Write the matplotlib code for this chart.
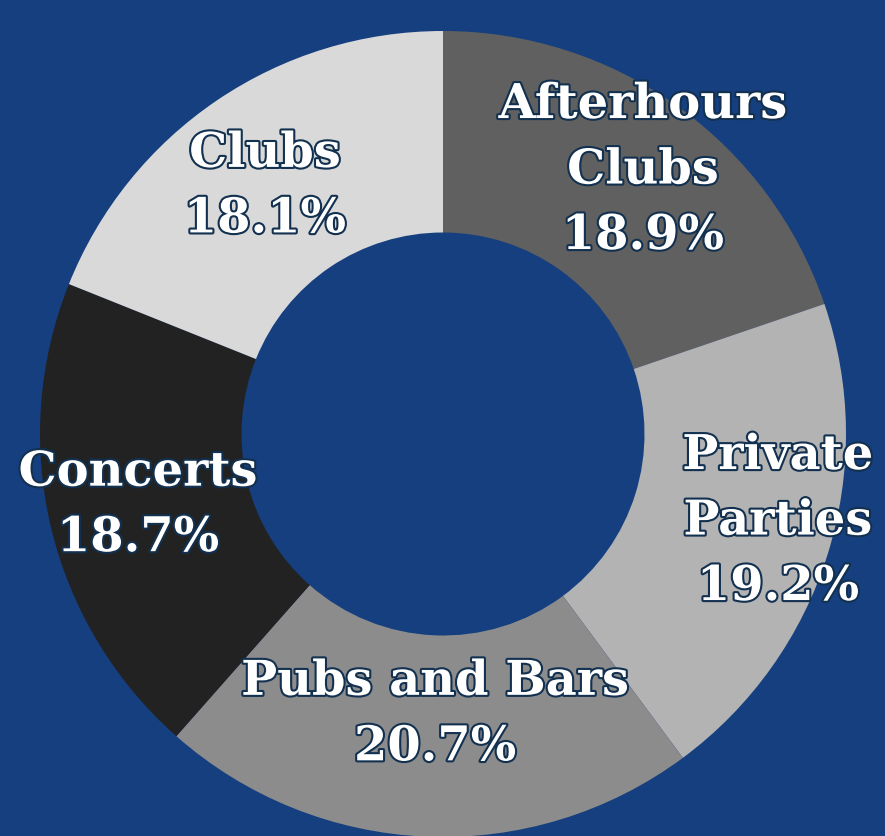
import matplotlib
matplotlib.use("Agg")
import matplotlib.pyplot as plt
import matplotlib.patheffects as pe

# categorias e valores (em %)
categorias = ["Afterhours\nClubs", "Private\nParties", "Pubs and Bars", "Concerts", "Clubs"]
valores = [18.9, 19.2, 20.7, 18.7, 18.1]
cores = ["#606060", "#b3b3b3", "#8c8c8c", "#222222", "#d9d9d9"]
# posicao dos rotulos (unidades do raio)
pos_rotulos = [(0.496, 0.655), (0.831, -0.216), (-0.020, -0.695), (-0.757, -0.176), (-0.442, 0.615)]

fundo = "#163f7f"
fig = plt.figure(figsize=(8.85, 8.37), dpi=100)
fig.patch.set_facecolor(fundo)
ax = fig.add_axes([40 / 885, -1 / 837, 806 / 885, 806 / 837])
ax.set_facecolor(fundo)

ax.pie(valores, colors=cores, startangle=90, counterclock=False, radius=1,
       wedgeprops=dict(width=0.5, linewidth=0))

for (x, y), cat, v in zip(pos_rotulos, categorias, valores):
    t = ax.text(x, y, cat + "\n" + f"{v:.1f}%", ha="center", va="center",
                fontsize=34.5, fontweight="bold", family="DejaVu Serif",
                color="white", linespacing=1.5)
    t.set_path_effects([pe.withStroke(linewidth=3, foreground="#12304f")])

ax.set_xlim(-1, 1)
ax.set_ylim(-1, 1)
ax.set_aspect("equal")
ax.axis("off")
plt.savefig("out.png", facecolor=fundo)
plt.close()
print("out.png")
